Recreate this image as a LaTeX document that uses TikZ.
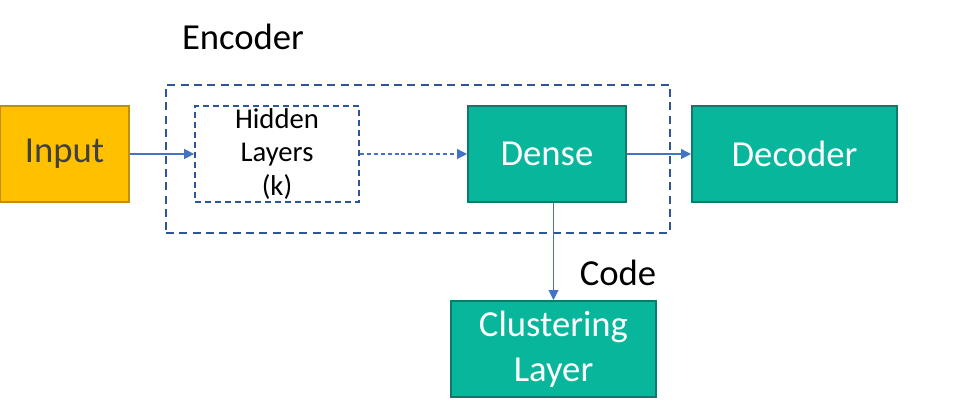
\documentclass[tikz,border=0pt]{standalone}
\usepackage{fontspec}
\setmainfont{Carlito}
\usetikzlibrary{positioning,arrows.meta}

\definecolor{inputfill}{HTML}{FFC000}
\definecolor{inputline}{HTML}{BF9000}
\definecolor{tealfill}{HTML}{07B69B}
\definecolor{tealline}{HTML}{0E7A6C}
\definecolor{dashblue}{HTML}{2F5597}
\definecolor{arrowblue}{HTML}{4472C4}
\definecolor{textgray}{HTML}{404040}

\tikzset{
  block/.style={rectangle, draw=tealline, fill=tealfill, line width=1.5pt,
    minimum height=72pt, text=white, font=\fontsize{27.5}{34}\selectfont, align=center, inner sep=0pt},
  inbox/.style={block, draw=inputline, fill=inputfill, text=textgray},
  hiddenbox/.style={rectangle, draw=dashblue, line width=1.3pt, dash pattern=on 4.5pt off 3pt,
    minimum width=123pt, minimum height=72pt, font=\fontsize{21.5}{25}\selectfont, align=center, inner sep=0pt},
  frame/.style={rectangle, draw=dashblue, line width=1.3pt, dash pattern=on 6pt off 4pt,
    minimum width=378pt, minimum height=111pt},
  flow/.style={draw=arrowblue, line width=0.8pt, -{Triangle[width=7.5pt,length=7.5pt]}},
  caption/.style={font=\fontsize{27.5}{32}\selectfont, text=black}
}

\begin{document}
\begin{tikzpicture}[x=0.75pt, y=-0.75pt]
  \useasboundingbox (0,0) rectangle (964,417);
  \node[frame] (enc) at (418,159) {};
  \node[inbox, minimum width=96.75pt] (input) at (64.5,154) {Input};
  \node[hiddenbox] (hidden) at (277,154) {Hidden\\Layers\\(k)};
  \node[block, minimum width=118.5pt] (dense) at (547,154) {Dense};
  \node[block, minimum width=153.75pt] (decoder) at (794.5,154) {Decoder};
  \node[block, minimum width=153.75pt] (clust) at (553.5,349) {Clustering\\Layer};
  \node[caption] (enclabel) at (243,37) {Encoder};
  \node[caption] (codelabel) at (618,273) {Code};
  \draw[flow] (input) -- (hidden);
  \draw[flow, dash pattern=on 3pt off 2.2pt] (hidden) -- (dense);
  \draw[flow] (dense) -- (decoder);
  \draw[flow] (clust.north |- dense.south) -- (clust.north);
\end{tikzpicture}
\end{document}
